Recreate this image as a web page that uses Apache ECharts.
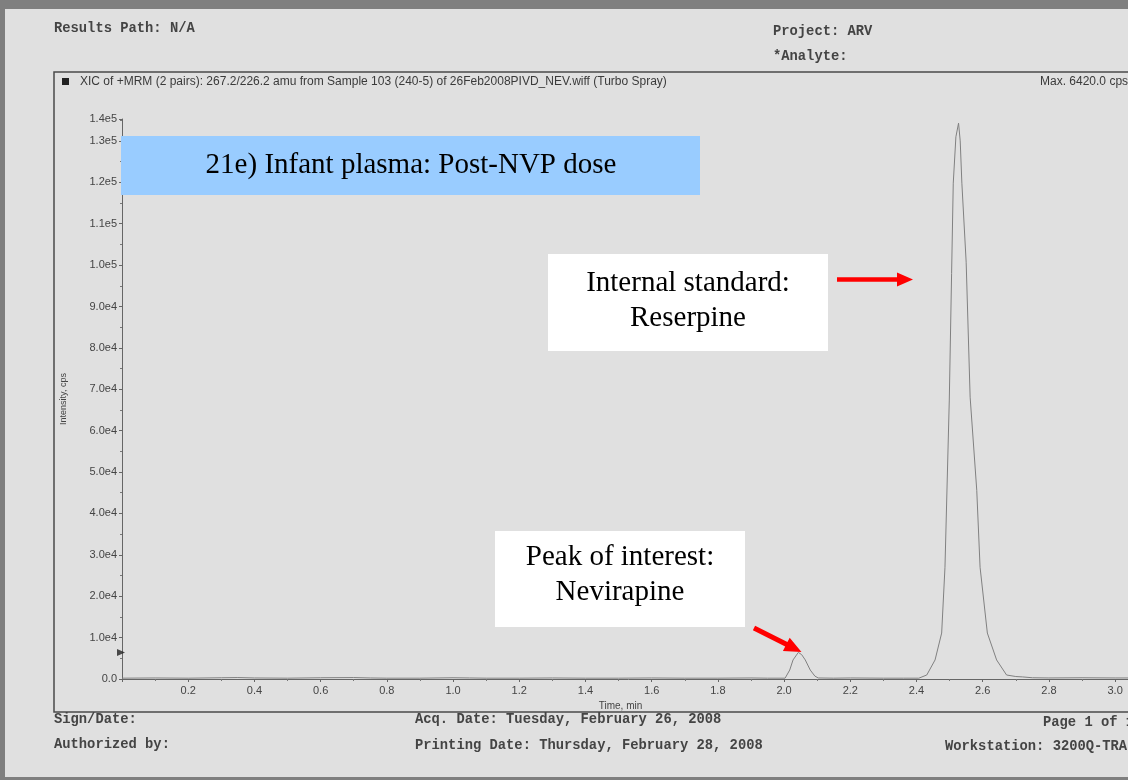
<!DOCTYPE html>
<html>
<head>
<meta charset="utf-8">
<script src="https://cdn.jsdelivr.net/npm/echarts@6/dist/echarts.min.js"></script>
<style>
  html, body { margin: 0; padding: 0; width: 1128px; height: 780px; overflow: hidden; background: #7f7f7f; }
  #page { position: absolute; left: 5px; top: 9px; width: 1160px; height: 768px; background: #e0e0e0; }
  #chart { position: absolute; left: 0; top: 0; width: 1170px; height: 780px; }
</style>
</head>
<body>
<div id="page"></div>
<div id="chart"></div>
<script>
// ---- Data ----
const timeMin = [0, 0.1, 0.2, 0.3, 0.35, 0.4, 0.5, 0.6, 0.7, 0.75, 0.8, 0.9, 1.0, 1.05, 1.1, 1.2, 1.3, 1.4, 1.5, 1.6, 1.7, 1.8, 1.9, 1.95,
  2.003, 2.017, 2.027, 2.043, 2.053, 2.064, 2.079, 2.093, 2.103, 2.15, 2.2, 2.3, 2.36,
  2.407, 2.431, 2.456, 2.476, 2.486, 2.499, 2.506, 2.511, 2.519, 2.527, 2.532, 2.537, 2.550, 2.562, 2.582, 2.592, 2.614, 2.642, 2.672, 2.700, 2.721, 2.75,
  2.8, 2.9, 3.0, 3.06];
const intensityCps = [200, 250, 200, 300, 350, 250, 200, 300, 350, 250, 200, 200, 300, 250, 200, 200, 250, 200, 200, 250, 200, 200, 250, 200,
  200, 2170, 4600, 6420, 5900, 4600, 2170, 700, 250, 200, 250, 200, 200,
  200, 970, 4600, 11100, 27000, 67400, 98000, 119800, 131000, 134300, 130000, 119800, 100700, 68100, 45600, 27000, 11100, 4600, 970, 600, 500, 300,
  250, 300, 250, 250];
const maxCps = 6420;
const yTickLabels = ['0.0', '1.0e4', '2.0e4', '3.0e4', '4.0e4', '5.0e4', '6.0e4', '7.0e4', '8.0e4', '9.0e4', '1.0e5', '1.1e5', '1.2e5', '1.3e5', '1.4e5'];
const yMax = 135300;
const xMax = 3.06;

const headerLeft = ['Results Path: N/A'];
const headerRight = ['Project: ARV', '*Analyte:'];
const traceTitle = 'XIC of +MRM (2 pairs): 267.2/226.2 amu from Sample 103 (240-5) of 26Feb2008PIVD_NEV.wiff (Turbo Spray)';
const maxText = 'Max. 6420.0 cps';
const footer = {
  sign: 'Sign/Date:', auth: 'Authorized by:',
  acq: 'Acq. Date: Tuesday, February 26, 2008',
  print: 'Printing Date: Thursday, February 28, 2008',
  page: 'Page 1 of 1', ws: 'Workstation: 3200Q-TRAP'
};
const titleBox = '21e) Infant plasma: Post-NVP dose';
const isBox = ['Internal standard:', 'Reserpine'];
const nvpBox = ['Peak of interest:', 'Nevirapine'];

const seriesData = timeMin.map((t, i) => [t, intensityCps[i]]);

const mono = { fontFamily: 'Liberation Mono', fontSize: 13.8, fontWeight: 'bold', fill: '#444' };
function monoText(x, y, s) { return { type: 'text', left: x, top: y, style: Object.assign({ text: s }, mono), z: 10 }; }

function arrow(x0, y0, x1, y1, shaftW, headL, headW) {
  const dx = x1 - x0, dy = y1 - y0, L = Math.hypot(dx, dy);
  const ux = dx / L, uy = dy / L, px = -uy, py = ux;
  const bx = x1 - ux * headL, by = y1 - uy * headL;
  const h = shaftW / 2, w = headW / 2;
  return {
    type: 'polygon', z: 20,
    shape: { points: [
      [x0 + px * h, y0 + py * h], [bx + px * h, by + py * h], [bx + px * w, by + py * w], [x1, y1],
      [bx - px * w, by - py * w], [bx - px * h, by - py * h], [x0 - px * h, y0 - py * h]
    ] },
    style: { fill: '#ff0000' }
  };
}

const serif = { fontFamily: 'Liberation Serif', fill: '#000' };

const chart = echarts.init(document.getElementById('chart'), null, { renderer: 'canvas' });
chart.setOption({
  backgroundColor: 'transparent',
  animation: false,
  grid: { left: 122, width: 1013, top: 119, height: 560, containLabel: false, outerBoundsMode: 'none' },
  xAxis: {
    type: 'value', min: 0, max: xMax, interval: 0.2,
    name: 'Time, min', nameLocation: 'middle', nameGap: 22,
    nameTextStyle: { fontFamily: 'Liberation Sans', fontSize: 10, color: '#444', padding: [0, 16, 0, 0] },
    axisLine: { show: true, lineStyle: { color: '#666', width: 1 } },
    axisTick: { show: true, length: 3, lineStyle: { color: '#666' } },
    minorTick: { show: true, splitNumber: 2, length: 2, lineStyle: { color: '#777' } },
    splitLine: { show: false },
    axisLabel: { fontFamily: 'Liberation Sans', fontSize: 11, color: '#444', margin: 6,
      showMinLabel: false, showMaxLabel: false, formatter: v => v.toFixed(1) }
  },
  yAxis: {
    type: 'value', min: 0, max: yMax, interval: 10000,
    name: 'Intensity, cps', nameLocation: 'middle', nameGap: 54, nameRotate: 90,
    nameTextStyle: { fontFamily: 'Liberation Sans', fontSize: 9, color: '#444' },
    axisLine: { show: true, lineStyle: { color: '#666', width: 1 } },
    axisTick: { show: true, length: 3, lineStyle: { color: '#666' } },
    minorTick: { show: true, splitNumber: 2, length: 2, lineStyle: { color: '#777' } },
    splitLine: { show: false },
    axisLabel: { fontFamily: 'Liberation Sans', fontSize: 11, color: '#444', margin: 5,
      showMaxLabel: true, formatter: v => yTickLabels[Math.round(v / 10000)] }
  },
  series: [
    {
      type: 'line', data: seriesData, symbol: 'none', smooth: false,
      lineStyle: { color: '#808080', width: 1 }, z: 3
    },
    {
      type: 'scatter', data: [[0, maxCps]], symbol: 'triangle', symbolRotate: -90,
      symbolSize: [7, 8], symbolOffset: [-1, 0], itemStyle: { color: '#222' }, z: 4, clip: false
    }
  ],
  graphic: [
    // frame
    { type: 'polyline', z: 5, shape: { points: [[1165, 72], [54, 72], [54, 712], [1165, 712]] },
      style: { stroke: '#4a4a4a', lineWidth: 1.5, fill: null } },
    { type: 'rect', z: 5, shape: { x: 62, y: 78, width: 7, height: 7 }, style: { fill: '#222' } },
    { type: 'text', z: 10, left: 80, top: 76, style: { text: traceTitle, fontFamily: 'Liberation Sans', fontSize: 12, fill: '#3a3a3a' } },
    { type: 'text', z: 10, left: 1040, top: 76, style: { text: maxText, fontFamily: 'Liberation Sans', fontSize: 12, fill: '#3a3a3a' } },
    monoText(54, 22, headerLeft[0]),
    monoText(773, 25, headerRight[0]),
    monoText(773, 50, headerRight[1]),
    monoText(54, 713, footer.sign),
    monoText(54, 738, footer.auth),
    monoText(415, 713, footer.acq),
    monoText(415, 739, footer.print),
    monoText(1043, 716, footer.page),
    monoText(945, 740, footer.ws),
    // annotation boxes
    { type: 'rect', z: 15, shape: { x: 121, y: 136, width: 579, height: 59 }, style: { fill: '#99ccff' } },
    { type: 'text', z: 16, x: 411, y: 165, style: Object.assign({ text: titleBox, fontSize: 29, align: 'center', verticalAlign: 'middle' }, serif) },
    { type: 'rect', z: 15, shape: { x: 548, y: 254, width: 280, height: 97 }, style: { fill: '#ffffff' } },
    { type: 'text', z: 16, x: 688, y: 301, style: Object.assign({ text: isBox.join('\n'), fontSize: 29, lineHeight: 35, align: 'center', verticalAlign: 'middle' }, serif) },
    { type: 'rect', z: 15, shape: { x: 495, y: 531, width: 250, height: 96 }, style: { fill: '#ffffff' } },
    { type: 'text', z: 16, x: 620, y: 575, style: Object.assign({ text: nvpBox.join('\n'), fontSize: 29, lineHeight: 35, align: 'center', verticalAlign: 'middle' }, serif) },
    arrow(837, 279.5, 913, 279.5, 4.5, 16, 14),
    arrow(754, 628, 801.5, 652, 5, 17, 15)
  ]
});
</script>
</body>
</html>
